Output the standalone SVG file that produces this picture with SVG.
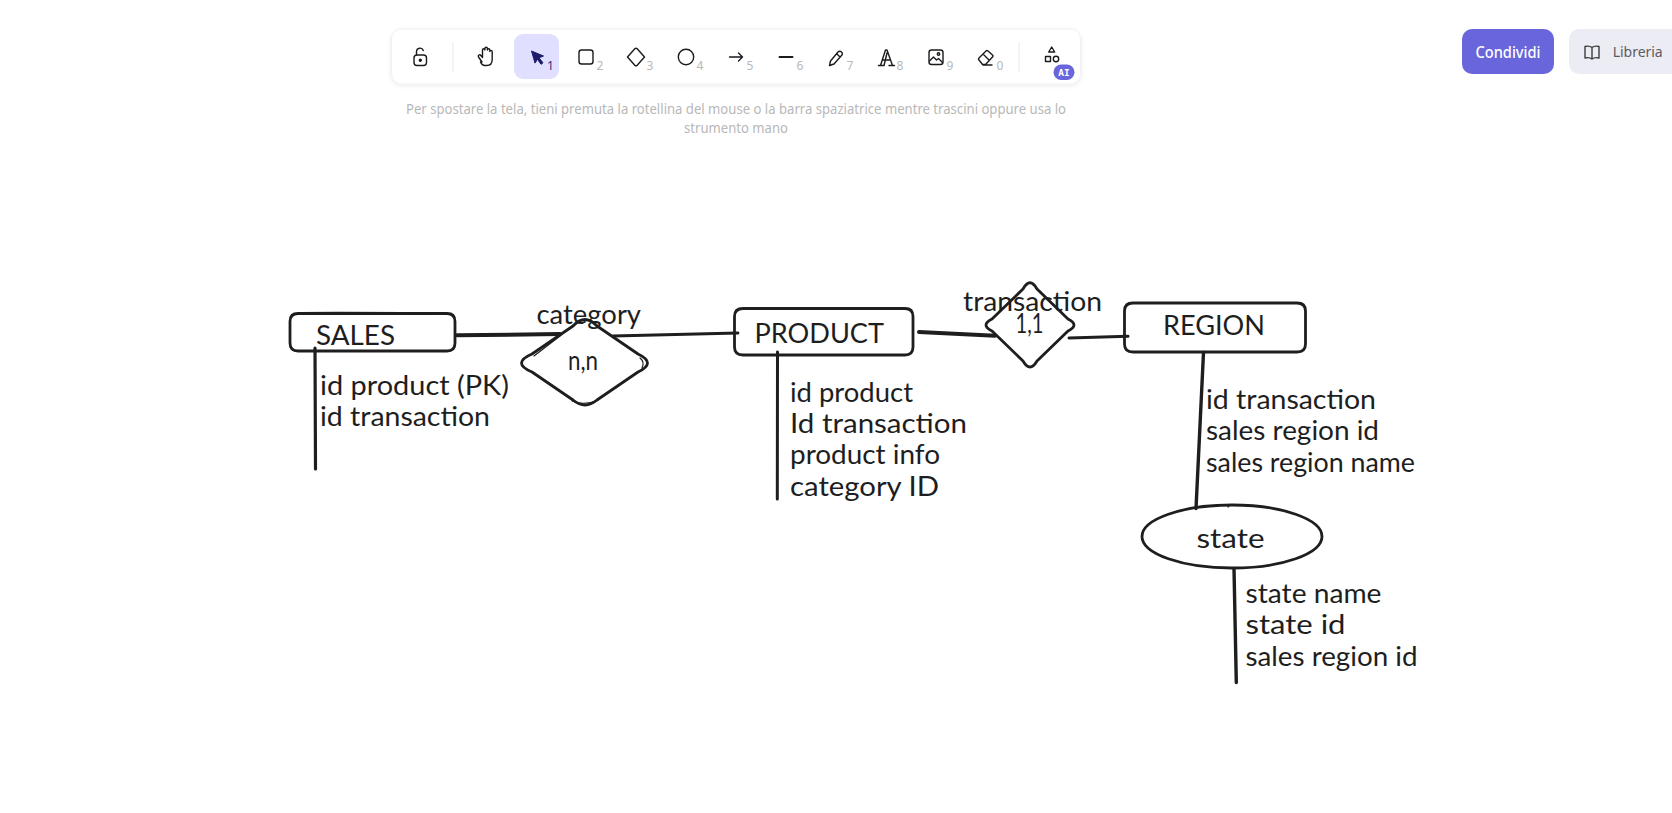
<svg xmlns="http://www.w3.org/2000/svg" width="1672" height="813" viewBox="0 0 1672 813">
<style>
.hand{font-family:"Lato","Open Sans",sans-serif;font-size:26px;fill:#1e1e1e}
.ui{font-family:"Noto Sans","Open Sans",sans-serif}
.hint{font-size:14px;fill:#b8b8b8}
.num{font-size:12px;fill:#b8b8b8;text-anchor:middle}
.ico{fill:none;stroke:#1b1b1f;stroke-width:1.4;stroke-linecap:round;stroke-linejoin:round}
.shape{fill:none;stroke:#1e1e1e;stroke-width:2.8;stroke-linecap:round;stroke-linejoin:round}
.sk{fill:none;stroke:#1e1e1e;stroke-width:1.2;stroke-linecap:round}
.con{fill:none;stroke:#1e1e1e;stroke-linecap:round}
</style>
<defs>
<filter id="sh" x="-5%" y="-30%" width="110%" height="170%"><feDropShadow dx="0" dy="1" stdDeviation="2" flood-color="#000" flood-opacity="0.09"/></filter>
</defs>
<rect width="1672" height="813" fill="#ffffff"/>

<g id="toolbar">
<rect x="391.500" y="29" width="689" height="55" rx="10" fill="#fff" stroke="#f1f1f4" filter="url(#sh)"/>
<rect x="514" y="34" width="45" height="45" rx="9" fill="#e0dfff"/>
<path d="M453 42.500V71.500M1019 42.500V71.500" stroke="#ececf4" stroke-width="1.2"/>
<g class="ico">
<rect x="414" y="55" width="12.500" height="10.500" rx="3"/><path d="M416.500 55v-3.500a3.500 3.500 0 0 1 6.800-1"/><circle cx="420.300" cy="60.300" r="1" fill="#1b1b1f"/>
<path d="M482 62l-3.500-5c-1-1.800 1.200-3 2.400-1.500l1.600 2V50c0-1.700 2.400-1.700 2.400 0v-1.500c0-1.700 2.500-1.700 2.500 0V50c0-1.600 2.400-1.600 2.400 0v1.500c0-1.500 2.400-1.500 2.400 0v8c0 3.500-2 6-5.500 6h-2c-2 0-3.200-1.300-4.200-3.500z"/>
<rect x="579" y="50" width="14" height="14" rx="2.500"/>
<path d="M627.500 57l7.300-8.200q1.200-1.200 2.400 0l7.300 8.200-7.300 8.200q-1.200 1.200-2.400 0z"/>
<circle cx="686" cy="57" r="7.700"/>
<path d="M729.500 57h13M738.500 53l4 4-4 4"/>
<path d="M779.500 57h13" stroke-width="2"/>
<path d="M829.500 65.500l1-4.500 7.500-9q1.700-1.700 3.500 0t0 3.500l-7.500 8.500zM836.500 53.500l3.500 3.500"/>
<path d="M878.500 65.500h5M889 65.500h5.500M880.500 65.500L885.500 50h1.500l5.500 15.500M883 60h7M884 65.500L887 53"/>
<rect x="929" y="50" width="14" height="14.500" rx="2.500"/><circle cx="938.500" cy="54" r="1.200"/><path d="M929.500 61l4-4 3 3 2-1.500 4 4"/>
<path d="M979 58l7-7q1-1 2 0l4.500 4q1 1 0 2l-7 7.500h-3l-3.500-4.500q-1-1 0-2zM983 54l6 6M983 65h9"/>
<path d="M1051.700 47l3 5h-6zM1045.500 56.500h5v5h-5z"/><circle cx="1056" cy="59" r="2.700"/>
</g>
<path d="M531.500 51l12 5-4.500 1.800 4 5-2 1.500-3.500-5-2.500 3.800z" fill="#1e1b6b" stroke="#1e1b6b" stroke-linejoin="round"/>
<text class="ui num" x="550.500" y="70" style="fill:#312e81">1</text>
<text class="ui num" x="600" y="70">2</text>
<text class="ui num" x="650" y="70">3</text>
<text class="ui num" x="700" y="70">4</text>
<text class="ui num" x="750" y="70">5</text>
<text class="ui num" x="800" y="70">6</text>
<text class="ui num" x="850" y="70">7</text>
<text class="ui num" x="900" y="70">8</text>
<text class="ui num" x="950" y="70">9</text>
<text class="ui num" x="1000" y="70">0</text>
<rect x="1053.500" y="64.500" width="21" height="15.500" rx="7.700" fill="#6965db"/>
<text x="1064" y="76" text-anchor="middle" font-family="'DejaVu Sans Mono',monospace" font-weight="700" font-size="9.500" fill="#fff">AI</text>
</g>
<g id="hint">
<text class="ui hint" x="406" y="114" textLength="660" lengthAdjust="spacingAndGlyphs">Per spostare la tela, tieni premuta la rotellina del mouse o la barra spaziatrice mentre trascini oppure usa lo</text>
<text class="ui hint" x="684" y="133" textLength="104" lengthAdjust="spacingAndGlyphs">strumento mano</text>
</g>
<g id="condividi">
<rect x="1462" y="29" width="92" height="45" rx="10" fill="#6965db"/>
<text class="ui" x="1475.500" y="57.500" font-size="15.500" font-weight="500" fill="#fff" textLength="65" lengthAdjust="spacingAndGlyphs">Condividi</text>
</g>
<g id="libreria">
<path d="M1672 29H1579a10 10 0 0 0-10 10v25a10 10 0 0 0 10 10h93z" fill="#ececf4"/>
<path class="ico" d="M1592 47.500c-2-1.500-5-1.500-7-1v11.500c2-.5 5-.5 7 1 2-1.500 5-1.500 7-1V46.500c-2-.5-5-.5-7 1zM1592 47.500V58.500" style="stroke:#3d3d3d"/>
<text class="ui" x="1612.700" y="57" font-size="14" fill="#5b5b60" textLength="50" lengthAdjust="spacing">Libreria</text>
</g>

<g id="connectors">
<path class="con" stroke-width="4" d="M457 335.300L560 334"/>
<path class="con" stroke-width="2.800" d="M613 336L738 333"/>
<path class="con" stroke-width="3.200" d="M315 348L315.500 469"/>
<path class="con" stroke-width="3" d="M777.500 352L777.300 499"/>
<path class="con" stroke-width="4" d="M919 332L995 335.700"/>
<path class="con" stroke-width="3" d="M1069 338L1128 336.300"/>
<path class="con" stroke-width="3.400" d="M1203.500 352.500L1196 508.500"/>
<path class="con" stroke-width="3.400" d="M1234 568.500L1236.300 682.500"/>
</g>

<g id="sales">
<path class="shape" d="M298 313.500H447q8 0 8 8V343q0 8-8 8H298q-8 0-8-8V321.500q0-8 8-8z"/>
<path class="sk" d="M300 312.500C360 312 420 312.800 446 313"/>
<text class="hand" x="316" y="344.500" textLength="79" lengthAdjust="spacingAndGlyphs">SALES</text>
</g>
<g id="sales-attributes">
<text class="hand" x="320" y="394.500" textLength="189" lengthAdjust="spacingAndGlyphs">id product (PK)</text>
<text class="hand" x="320" y="425.500" textLength="170" lengthAdjust="spacingAndGlyphs">id transaction</text>
</g>
<g id="category-relation">
<path class="shape" d="M532 354L573 326Q585 313 597 326L638 354Q657 363 638 372L597 400Q585 410 573 400L532 372Q511 363 532 354Z"/>
<path class="sk" d="M534 356L560 336M640 358Q645 362 642 368M572 401Q585 406 598 400"/>
<text class="hand" x="536.500" y="323.500" textLength="104.500" lengthAdjust="spacingAndGlyphs">category</text>
<text class="hand" x="568" y="369.500" textLength="30" lengthAdjust="spacingAndGlyphs">n,n</text>
</g>
<g id="product">
<path class="shape" d="M743 308.500H905q8 0 8 8V347q0 8-8 8H743q-8.500 0-8.500-8V316.500q0-8 8.500-8z"/>
<text class="hand" x="754.500" y="342.500" textLength="129.500" lengthAdjust="spacingAndGlyphs">PRODUCT</text>
</g>
<g id="product-attributes">
<text class="hand" x="790" y="401.500" textLength="123" lengthAdjust="spacingAndGlyphs">id product</text>
<text class="hand" x="790" y="433" textLength="177" lengthAdjust="spacingAndGlyphs">Id transaction</text>
<text class="hand" x="790" y="464" textLength="150" lengthAdjust="spacingAndGlyphs">product info</text>
<text class="hand" x="790" y="495.500" textLength="149" lengthAdjust="spacingAndGlyphs">category ID</text>
</g>
<g id="transaction-relation">
<path class="shape" d="M992 319L1023 289Q1030 276.500 1037 289L1068 319Q1080 325 1068 331L1037 361Q1030 373 1023 361L992 331Q980 325 992 319Z"/>
<text class="hand" x="963" y="311" textLength="139" lengthAdjust="spacingAndGlyphs">transaction</text>
<text class="hand" x="1015.500" y="333" textLength="28" lengthAdjust="spacingAndGlyphs">1,1</text>
</g>
<g id="region">
<path class="shape" d="M1133 303H1297q8.500 0 8.500 8V344q0 8-8.500 8H1133q-8.500 0-8.500-8V311q0-8 8.500-8z"/>
<text class="hand" x="1163" y="335" textLength="102" lengthAdjust="spacingAndGlyphs">REGION</text>
</g>
<g id="region-attributes">
<text class="hand" x="1206" y="409" textLength="170" lengthAdjust="spacingAndGlyphs">id transaction</text>
<text class="hand" x="1206" y="440" textLength="173" lengthAdjust="spacingAndGlyphs">sales region id</text>
<text class="hand" x="1206" y="472" textLength="209" lengthAdjust="spacingAndGlyphs">sales region name</text>
</g>
<g id="state">
<ellipse class="shape" cx="1232" cy="536.500" rx="90" ry="31.500"/>
<path class="sk" d="M1228 507L1230 505"/>
<text class="hand" x="1196.500" y="548" textLength="68" lengthAdjust="spacingAndGlyphs">state</text>
</g>
<g id="state-attributes">
<text class="hand" x="1245.500" y="603" textLength="136" lengthAdjust="spacingAndGlyphs">state name</text>
<text class="hand" x="1245.500" y="634" textLength="100" lengthAdjust="spacingAndGlyphs">state id</text>
<text class="hand" x="1245.500" y="665.500" textLength="172" lengthAdjust="spacingAndGlyphs">sales region id</text>
</g>
</svg>
